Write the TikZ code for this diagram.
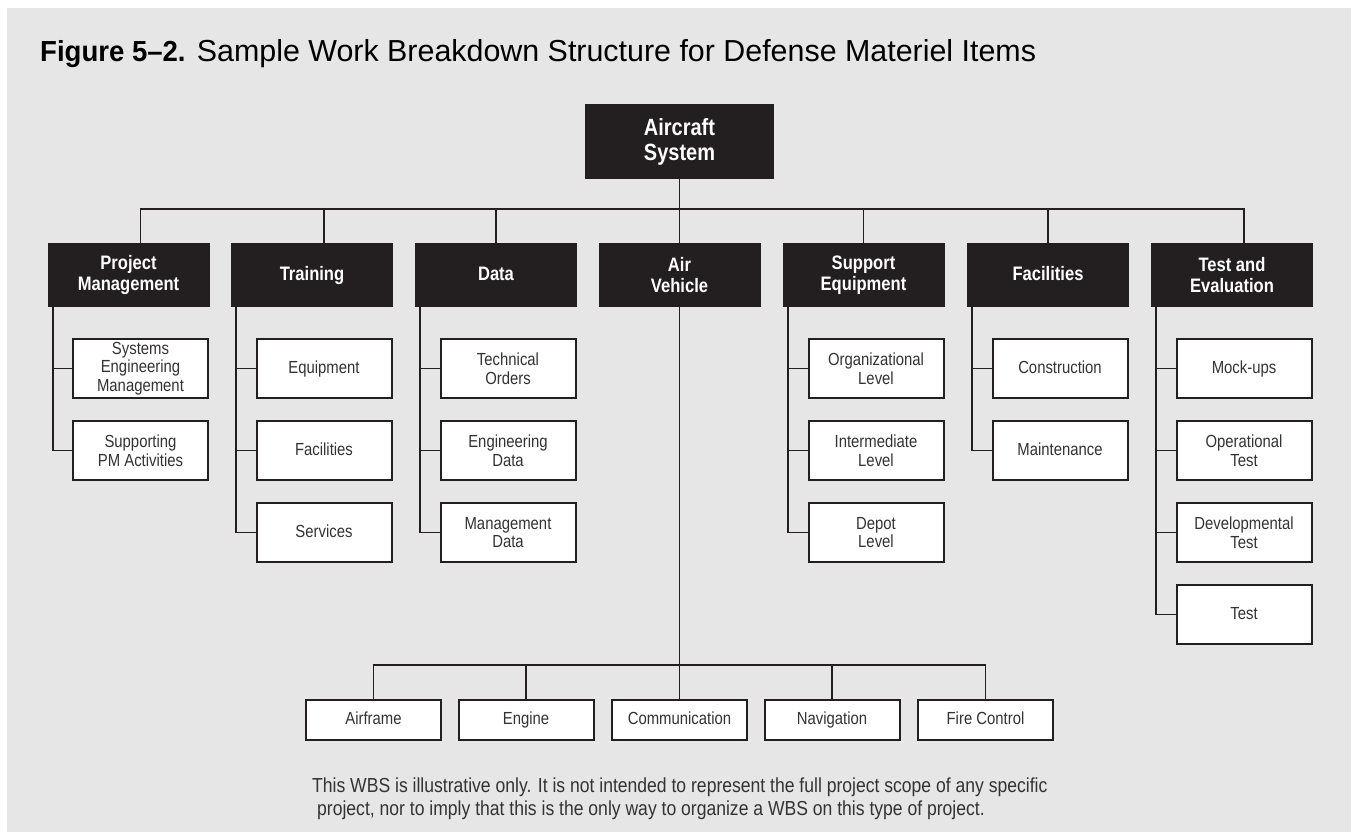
\documentclass[tikz,border=0pt]{standalone}
\usepackage{fontspec}
\setmainfont{Liberation Sans}
\newfontfamily\condfont[FakeStretch=0.85]{Liberation Sans}
\newfontfamily\notefont[FakeStretch=0.865]{Liberation Sans}
\newfontfamily\figfont[FakeStretch=0.95]{Liberation Sans}
\definecolor{boxblack}{HTML}{231F20}
\definecolor{inkgray}{HTML}{333333}
\definecolor{pagegray}{HTML}{E6E6E6}
\tikzset{
  topbox/.style={fill=boxblack, text=white, align=center, inner sep=0pt,
    font=\condfont\bfseries\fontsize{23.5}{25}\selectfont,
    minimum width=189pt, minimum height=75pt},
  headbox/.style={fill=boxblack, text=white, align=center, inner sep=0pt,
    font=\condfont\bfseries\fontsize{19.5}{21}\selectfont,
    minimum width=162pt, minimum height=64pt},
  headone/.style={headbox, text height=14pt, text depth=3pt},
  itembox/.style={draw=boxblack, line width=2pt, fill=white, text=inkgray,
    align=center, inner sep=0pt, font=\condfont\fontsize{17.5}{18.5}\selectfont,
    minimum width=135pt, minimum height=59pt},
  itemone/.style={itembox, text height=12.5pt, text depth=3pt},
  partbox/.style={itemone, minimum height=40pt},
  link/.style={draw=boxblack, line width=1.8pt},
}
\begin{document}
\begin{tikzpicture}[x=1pt,y=-1pt]
    \useasboundingbox (0,0) rectangle (1353,832);
    \fill[pagegray] (7,8) rectangle (1351,832);

    % title
    \node[anchor=base west, inner sep=0pt, text=black] (title) at (40,62)
        {\figfont\bfseries\fontsize{29}{32}\selectfont Figure 5–2.\fontsize{30.4}{32}\normalfont\selectfont{} Sample Work Breakdown Structure for Defense Materiel Items};

    % top level
    \node[topbox] (root) at (679.5,141.5) {Aircraft\\System};
    \path (root.south) ++(0,30) coordinate (hub);

    % second level
    \node[headbox] (pm) at (128.5,275) {Project\\Management};
    \node[headone] (tr) at (312,275) {Training};
    \node[headone] (da) at (496,275) {Data};
    \node[headbox] (av) at (679.5,275) {Air\\Vehicle};
    \node[headbox] (se) at (863.5,275) {Support\\Equipment};
    \node[headone] (fa) at (1048,275) {Facilities};
    \node[headbox] (te) at (1232,275) {Test and\\Evaluation};

    \draw[link] (root.south) -- (hub);
    \draw[link] ([xshift=12pt]pm.north) |- (hub);
    \draw[link] ([xshift=12pt]tr.north) |- (hub);
    \draw[link] (da.north) |- (hub);
    \draw[link] (av.north) -- (hub);
    \draw[link] (se.north) |- (hub);
    \draw[link] (fa.north) |- (hub);
    \draw[link] ([xshift=12pt]te.north) |- (hub);

    % project management
    \node[itembox] (pm1) at (140.5,368.5) {Systems\\Engineering\\Management};
    \node[itembox] (pm2) at (140.5,450.5) {Supporting\\PM Activities};
    % training
    \node[itemone] (tr1) at (324,368.5) {Equipment};
    \node[itemone] (tr2) at (324,450.5) {Facilities};
    \node[itemone] (tr3) at (324,532.5) {Services};
    % data
    \node[itembox] (da1) at (508,368.5) {Technical\\Orders};
    \node[itembox] (da2) at (508,450.5) {Engineering\\Data};
    \node[itembox] (da3) at (508,532.5) {Management\\Data};
    % support equipment
    \node[itembox] (se1) at (876,368.5) {Organizational\\Level};
    \node[itembox] (se2) at (876,450.5) {Intermediate\\Level};
    \node[itembox] (se3) at (876,532.5) {Depot\\Level};
    % facilities
    \node[itemone] (fa1) at (1060,368.5) {Construction};
    \node[itemone] (fa2) at (1060,450.5) {Maintenance};
    % test and evaluation
    \node[itemone] (te1) at (1244,368.5) {Mock-ups};
    \node[itembox] (te2) at (1244,450.5) {Operational\\Test};
    \node[itembox] (te3) at (1244,532.5) {Developmental\\Test};
    \node[itemone] (te4) at (1244,614.5) {Test};

    \foreach \p/\c in {pm/pm1,pm/pm2,tr/tr1,tr/tr2,tr/tr3,da/da1,da/da2,da/da3,
                       se/se1,se/se2,se/se3,fa/fa1,fa/fa2,te/te1,te/te2,te/te3,te/te4}
        \draw[link] ([xshift=5.5pt]\p.south west) |- (\c.west);

    % air vehicle parts
    \node[partbox] (af) at (373.5,720) {Airframe};
    \node[partbox] (en) at (526,720) {Engine};
    \node[partbox] (co) at (679.5,720) {Communication};
    \node[partbox] (na) at (832,720) {Navigation};
    \node[partbox] (fc) at (985.5,720) {Fire Control};
    \path (av.south) ++(0,358) coordinate (avhub);

    \draw[link] (av.south) -- (co.north);
    \foreach \c in {af,en,na,fc}
        \draw[link] (\c.north) |- (avhub);

    % note
    \node[anchor=base west, inner sep=0pt, align=left, text=inkgray,
          font=\notefont\fontsize{20.3}{23.5}\selectfont] (note) at (312,815.5)
        {This WBS is illustrative only. It is not intended to represent the full project scope of any specific\\
         \hspace{5pt}project, nor to imply that this is the only way to organize a WBS on this type of project.};
\end{tikzpicture}
\end{document}
